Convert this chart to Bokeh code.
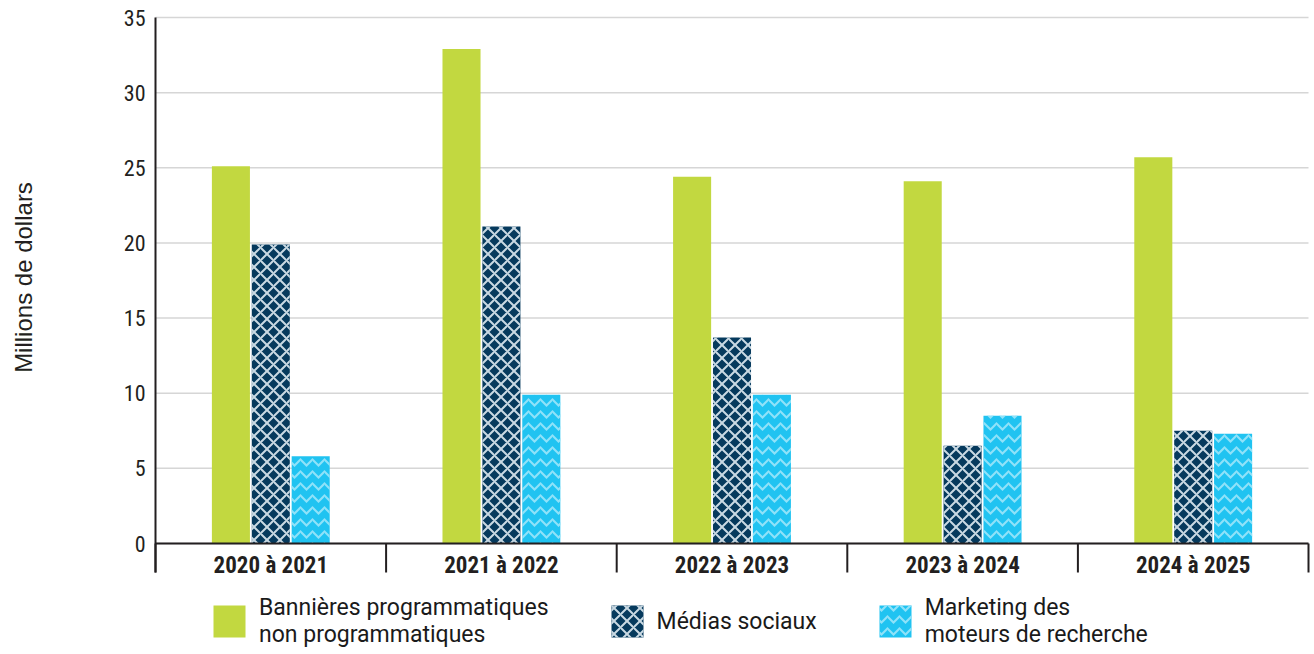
import numpy as np
from math import pi
from bokeh.plotting import figure
from bokeh.models import Legend, LegendItem, Range1d
from bokeh.core.properties import value
from bokeh.embed import file_html
from bokeh.resources import INLINE

periods = ["2020 à 2021", "2021 à 2022", "2022 à 2023", "2023 à 2024", "2024 à 2025"]
bannieres = [25.1, 32.9, 24.4, 24.1, 25.7]
medias_sociaux = [19.9, 21.1, 13.7, 6.5, 7.5]
marketing_recherche = [5.8, 9.9, 9.9, 8.5, 7.3]
series_labels = ["Bannières programmatiques\nnon programmatiques",
                 "Médias sociaux",
                 "Marketing des\nmoteurs de recherche"]
y_ticks = [0, 5, 10, 15, 20, 25, 30, 35]
y_tick_labels = [str(t) for t in y_ticks]
y_label = "Millions de dollars"

# page geometry (pixels)
W, H = 1314, 654
PLOT_L, PLOT_R, PLOT_T, PLOT_B = 155, 1308, 17, 543
TICK_LEN = 29
YMAX = 35
n = len(periods)
sx = (PLOT_R - PLOT_L) / n          # px per category
sy = (PLOT_B - PLOT_T) / YMAX       # px per unit

DARK = "#231f20"
COND = "'Roboto Condensed', 'DejaVu Sans Condensed', Roboto"

p = figure(width=W, height=H, output_backend="svg", toolbar_location=None,
           x_range=Range1d(-PLOT_L / sx, n + (W - PLOT_R) / sx),
           y_range=Range1d(-(H - PLOT_B) / sy, YMAX + PLOT_T / sy),
           x_axis_location=None, y_axis_location=None, min_border=0)
p.outline_line_color = None
p.grid.grid_line_color = None

# horizontal grid
p.segment(x0=0, y0=y_ticks, x1=n, y1=y_ticks, line_color="#d6d6d6", line_width=1.5)

styles = [
    dict(fill_color="#c2d840", line_color=None),
    dict(fill_color="#063a5d", line_color=None, hatch_pattern="diagonal_cross",
         hatch_color="#c9d9e3", hatch_scale=13, hatch_weight=2),
    dict(fill_color="#20c3f1", line_color=None, hatch_pattern="horizontal_wave",
         hatch_color="#8fe2f9", hatch_scale=12, hatch_weight=2),
]
centers = np.arange(n) + 0.5
step = 0.173
w = 0.165
bars = []
for off, vals, st in zip([-step, 0, step], [bannieres, medias_sociaux, marketing_recherche], styles):
    bars.append(p.vbar(x=centers + off, top=vals, width=w, **st))

# axes lines and category boundary ticks
tick_bottom = -TICK_LEN / sy
p.segment(x0=0, y0=tick_bottom, x1=0, y1=YMAX, line_color=DARK, line_width=2)
p.segment(x0=0, y0=0, x1=n, y1=0, line_color=DARK, line_width=2)
bounds = list(range(n + 1))
p.segment(x0=bounds, y0=[0] * len(bounds), x1=bounds, y1=[tick_bottom] * len(bounds),
          line_color=DARK, line_width=2)

# category labels
p.text(x=centers, y=[-22 / sy] * n, text=periods, text_align="center", text_baseline="middle",
       text_font=value(COND), text_font_style="bold", text_font_size="23px", text_color=DARK)

# y tick labels
p.text(x=[-10 / sx] * len(y_ticks), y=y_ticks, text=y_tick_labels, text_align="right",
       text_baseline="middle", text_font=value(COND), text_font_size="22px", text_color=DARK)

# y axis title
p.text(x=[-(PLOT_L - 23) / sx], y=[(PLOT_B - 277) / sy], text=[y_label], angle=pi / 2,
       text_align="center", text_baseline="middle", text_font=value("Liberation Sans"),
       text_font_size="24px", text_color=DARK)

legend = Legend(items=[LegendItem(label=value(s), renderers=[r]) for s, r in zip(series_labels, bars)],
                orientation="horizontal", glyph_width=40, glyph_height=40, label_standoff=10,
                spacing=58, padding=0, margin=0, border_line_color=None, background_fill_alpha=0,
                label_text_font="Roboto", label_text_font_size="23px", label_text_color="#1a1a1a",
                label_text_line_height=0.88, label_text_baseline="middle",
                location=(209, 6))
p.add_layout(legend)

open("out.html", "w").write(file_html(p, INLINE))
